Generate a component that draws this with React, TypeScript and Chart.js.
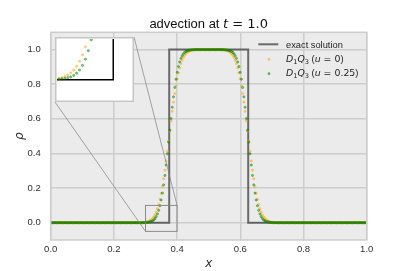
import React, { useEffect, useRef } from "react";
import { Chart, registerables } from "chart.js";

Chart.register(...registerables);

// ---- data ----
const GRID_N = 256; // cells on [0, 1], points at cell centres
const X_TICKS = [0, 0.2, 0.4, 0.6, 0.8, 1.0];
const Y_TICKS = [0, 0.2, 0.4, 0.6, 0.8, 1.0];
const X_RANGE = [0, 1];
const Y_RANGE = [-0.1, 1.1];
const INSET_X = [0.3, 0.4];
const INSET_Y = [-0.05, 0.1];

const EXACT_X = [0, 0.375, 0.375, 0.625, 0.625, 1];
const EXACT_Y = [0, 0, 1, 1, 0, 0];

// D1Q3, u = 0
const RHO_U0 = [
  0, 0, 0, 0, 0, 0, 0, 0, 0, 0,
  0, 0, 0, 0, 0, 0, 0, 0, 0, 0,
  0, 0, 0, 0, 0, 0, 0, 0, 0, 0,
  0, 0, 0, 0, 0, 0, 0, 0, 0, 0,
  0, 0, 0, 0, 0, 0, 0, 0, 0, 0,
  0, 0, 0, 0, 0, 0, 0, 0, 0, 0,
  0, 0, 0, 0, 0, 0, 0, 0, 0, 0,
  0,
  0.0001, 0.0002, 0.0004, 0.0007, 0.0012, 0.002, 0.0033, 0.0051, 0.0078, 0.0116,
  0.0168, 0.0236, 0.0331, 0.0453, 0.0611, 0.0808, 0.1052, 0.1346, 0.1691, 0.2089,
  0.2536, 0.3031, 0.3564, 0.4125, 0.4707, 0.5293, 0.5875, 0.6436, 0.6969, 0.7464,
  0.7911, 0.8309, 0.8654, 0.8948, 0.9192, 0.9389, 0.9549, 0.9672, 0.9767, 0.9837,
  0.9888, 0.9925, 0.9951, 0.9969, 0.9981, 0.9988, 0.9993, 0.9996, 0.9998, 0.9999,
  1, 1, 1, 1, 1, 1, 1, 1, 1, 1, 1, 1, 1, 1,
  0.9999, 0.9998, 0.9996, 0.9993, 0.9988, 0.9981, 0.9969, 0.9951, 0.9925, 0.9888,
  0.9837, 0.9767, 0.9672, 0.9549, 0.9389, 0.9192, 0.8948, 0.8654, 0.8309, 0.7911,
  0.7464, 0.6969, 0.6436, 0.5875, 0.5293, 0.4707, 0.4125, 0.3564, 0.3031, 0.2536,
  0.2089, 0.1691, 0.1346, 0.1052, 0.0808, 0.0611, 0.0453, 0.0331, 0.0236, 0.0168,
  0.0116, 0.0078, 0.0051, 0.0033, 0.002, 0.0012, 0.0007, 0.0004, 0.0002, 0.0001,
  0, 0, 0, 0, 0, 0, 0, 0, 0, 0,
  0, 0, 0, 0, 0, 0, 0, 0, 0, 0,
  0, 0, 0, 0, 0, 0, 0, 0, 0, 0,
  0, 0, 0, 0, 0, 0, 0, 0, 0, 0,
  0, 0, 0, 0, 0, 0, 0, 0, 0, 0,
  0, 0, 0, 0, 0, 0, 0, 0, 0, 0,
  0, 0, 0, 0, 0, 0, 0, 0, 0, 0,
  0,
];

// D1Q3, u = 0.25
const RHO_U025 = [
  0, 0, 0, 0, 0, 0, 0, 0, 0, 0,
  0, 0, 0, 0, 0, 0, 0, 0, 0, 0,
  0, 0, 0, 0, 0, 0, 0, 0, 0, 0,
  0, 0, 0, 0, 0, 0, 0, 0, 0, 0,
  0, 0, 0, 0, 0, 0, 0, 0, 0, 0,
  0, 0, 0, 0, 0, 0, 0, 0, 0, 0,
  0, 0, 0, 0, 0, 0, 0, 0, 0, 0,
  0, 0, 0, 0,
  0.0002, 0.0004, 0.0008, 0.0014, 0.0022, 0.0033, 0.0048, 0.0068, 0.0105, 0.016,
  0.0238, 0.0351, 0.0503, 0.0714, 0.0979, 0.1311, 0.1714, 0.2188, 0.273, 0.3331,
  0.398, 0.4656, 0.5344, 0.602, 0.6669, 0.727, 0.7812, 0.8286, 0.8689, 0.9021,
  0.9286, 0.9497, 0.9649, 0.9762, 0.984, 0.9895, 0.9932, 0.9952, 0.9967, 0.9978,
  0.9986, 0.9992, 0.9996, 0.9998, 0.9999,
  1, 1, 1, 1, 1, 1, 1, 1, 1, 1, 1, 1, 1, 1, 1, 1, 1, 1,
  0.9999, 0.9998, 0.9996, 0.9992, 0.9986,
  0.9978, 0.9967, 0.9952, 0.9932, 0.9895, 0.984, 0.9762, 0.9649, 0.9497, 0.9286,
  0.9021, 0.8689, 0.8286, 0.7812, 0.727, 0.6669, 0.602, 0.5344, 0.4656, 0.398,
  0.3331, 0.273, 0.2188, 0.1714, 0.1311, 0.0979, 0.0714, 0.0503, 0.0351, 0.0238,
  0.016, 0.0105, 0.0068, 0.0048, 0.0033, 0.0022, 0.0014, 0.0008, 0.0004, 0.0002,
  0, 0, 0, 0, 0, 0, 0, 0, 0, 0,
  0, 0, 0, 0, 0, 0, 0, 0, 0, 0,
  0, 0, 0, 0, 0, 0, 0, 0, 0, 0,
  0, 0, 0, 0, 0, 0, 0, 0, 0, 0,
  0, 0, 0, 0, 0, 0, 0, 0, 0, 0,
  0, 0, 0, 0, 0, 0, 0, 0, 0, 0,
  0, 0, 0, 0, 0, 0, 0, 0, 0, 0,
  0, 0, 0, 0,
];

type Seg = { t: string; it?: boolean; sub?: boolean; math?: boolean };
const TITLE_SEGS: Seg[] = [
  { t: "advection at " },
  { t: "t", it: true, math: true },
  { t: " = 1.0", math: true },
];
const LEGEND_EXACT: Seg[] = [{ t: "exact solution" }];
const LEGEND_U0: Seg[] = [
  { t: "D", it: true, math: true },
  { t: "1", sub: true, math: true },
  { t: "Q", it: true, math: true },
  { t: "3", sub: true, math: true },
  { t: " (" },
  { t: "u", it: true, math: true },
  { t: " = 0", math: true },
  { t: ")" },
];
const LEGEND_U025: Seg[] = [
  { t: "D", it: true, math: true },
  { t: "1", sub: true, math: true },
  { t: "Q", it: true, math: true },
  { t: "3", sub: true, math: true },
  { t: " (" },
  { t: "u", it: true, math: true },
  { t: " = 0.25", math: true },
  { t: ")" },
];
const X_LABEL = "x";
const Y_LABEL = "\u03C1";

// ---- styles ----
const W = 407;
const H = 271;
const AREA = { left: 50.7, right: 366.7, top: 32.3, bottom: 240 };
const INSET_BOX = { left: 55, top: 37, w: 79, h: 65 };
const BG = "#EBEBEB";
const GRID = "#cdcdcd";
const TEXT = "#2e2e2e";
const EXACT_COLOR = "rgba(55,55,55,0.72)";
const ORANGE = "rgba(255,165,0,0.45)";
const GREEN = "rgba(0,128,0,0.45)";
const POINT_R = 1.1;
const POINT_EDGE = 0.9;
const SANS = '"Liberation Sans", Arial, sans-serif';
const MATH = '"DejaVu Sans", sans-serif';

const X_GRID = Array.from({ length: GRID_N }, (_, i) => (i + 0.5) / GRID_N);

function pts(ys: number[]) {
  return ys.map((y, i) => ({ x: X_GRID[i], y }));
}
function exactPts() {
  return EXACT_X.map((x, i) => ({ x, y: EXACT_Y[i] }));
}

function segFont(s: Seg, size: number) {
  const sz = s.sub ? size * 0.7 : size;
  return `${s.it ? "italic " : ""}${sz}px ${s.math ? MATH : SANS}`;
}
function drawSegs(
  ctx: CanvasRenderingContext2D,
  segs: Seg[],
  x: number,
  y: number,
  size: number,
  align: "left" | "center"
) {
  ctx.textBaseline = "alphabetic";
  ctx.textAlign = "left";
  let total = 0;
  for (const s of segs) {
    ctx.font = segFont(s, size);
    total += ctx.measureText(s.t).width;
  }
  let cx = align === "center" ? x - total / 2 : x;
  for (const s of segs) {
    ctx.font = segFont(s, size);
    ctx.fillText(s.t, cx, s.sub ? y + size * 0.2 : y);
    cx += ctx.measureText(s.t).width;
  }
}

function drawMarker(ctx: CanvasRenderingContext2D, x: number, y: number, color: string) {
  ctx.fillStyle = color;
  ctx.strokeStyle = color;
  ctx.lineWidth = POINT_EDGE;
  ctx.beginPath();
  ctx.arc(x, y, POINT_R, 0, Math.PI * 2);
  ctx.fill();
  ctx.stroke();
}

const mainDecor = {
  id: "mainDecor",
  beforeDraw(chart: any) {
    const { ctx, chartArea: a } = chart;
    ctx.save();
    ctx.fillStyle = "#ffffff";
    ctx.fillRect(0, 0, chart.width, chart.height);
    ctx.fillStyle = BG;
    ctx.fillRect(a.left, a.top, a.right - a.left, a.bottom - a.top);
    ctx.restore();
  },
  afterDatasetsDraw(chart: any) {
    const { ctx, chartArea: a } = chart;
    const xs = chart.scales.x;
    const ys = chart.scales.y;
    const x0 = xs.getPixelForValue(INSET_X[0]);
    const x1 = xs.getPixelForValue(INSET_X[1]);
    const y0 = ys.getPixelForValue(INSET_Y[0]);
    const y1 = ys.getPixelForValue(INSET_Y[1]);
    ctx.save();
    ctx.strokeStyle = "#808080";
    ctx.lineWidth = 0.9;
    ctx.strokeRect(x0, y1, x1 - x0, y0 - y1);
    ctx.beginPath();
    ctx.moveTo(INSET_BOX.left, INSET_BOX.top + INSET_BOX.h);
    ctx.lineTo(x0, y0);
    ctx.moveTo(INSET_BOX.left + INSET_BOX.w, INSET_BOX.top);
    ctx.lineTo(x1, y1);
    ctx.lineWidth = 0.7;
    ctx.stroke();
    // axes frame
    ctx.strokeStyle = GRID;
    ctx.lineWidth = 1.5;
    ctx.strokeRect(a.left, a.top, a.right - a.left, a.bottom - a.top);
    ctx.restore();
  },
  afterDraw(chart: any) {
    const { ctx, chartArea: a } = chart;
    ctx.save();
    ctx.fillStyle = "#111111";
    drawSegs(ctx, TITLE_SEGS, (a.left + a.right) / 2, 27.5, 13, "center");

    // axis labels
    ctx.fillStyle = TEXT;
    ctx.font = `italic 12px ${MATH}`;
    ctx.textAlign = "center";
    ctx.textBaseline = "alphabetic";
    ctx.fillText(X_LABEL, (a.left + a.right) / 2, 266.5);
    ctx.save();
    ctx.translate(23, (a.top + a.bottom) / 2);
    ctx.rotate(-Math.PI / 2);
    ctx.fillText(Y_LABEL, 0, 0);
    ctx.restore();

    // legend
    ctx.strokeStyle = EXACT_COLOR;
    ctx.lineWidth = 2;
    ctx.beginPath();
    ctx.moveTo(258.3, 44.3);
    ctx.lineTo(278.3, 44.3);
    ctx.stroke();
    drawMarker(ctx, 269, 59.3, ORANGE);
    drawMarker(ctx, 269, 73.7, GREEN);
    ctx.fillStyle = "#1e1e1e";
    drawSegs(ctx, LEGEND_EXACT, 286, 47.5, 9.3, "left");
    drawSegs(ctx, LEGEND_U0, 286, 62, 9.4, "left");
    drawSegs(ctx, LEGEND_U025, 286, 76.4, 9.4, "left");
    ctx.restore();
  },
};

const insetDecor = {
  id: "insetDecor",
  beforeDraw(chart: any) {
    const { ctx } = chart;
    ctx.save();
    ctx.fillStyle = "#ffffff";
    ctx.fillRect(0, 0, chart.width, chart.height);
    ctx.restore();
  },
  afterDraw(chart: any) {
    const { ctx } = chart;
    ctx.save();
    ctx.strokeStyle = "#c6c6c6";
    ctx.lineWidth = 1.5;
    ctx.strokeRect(0.75, 0.75, chart.width - 1.5, chart.height - 1.5);
    ctx.restore();
  },
};

function pointSet(label: string, ys: number[], color: string, order: number) {
  return {
    label,
    data: pts(ys),
    backgroundColor: color,
    borderColor: color,
    borderWidth: POINT_EDGE,
    pointRadius: POINT_R,
    pointHoverRadius: 0,
    pointBorderWidth: POINT_EDGE,
    order,
  };
}

export default function App() {
  const mainRef = useRef<HTMLCanvasElement>(null);
  const insetRef = useRef<HTMLCanvasElement>(null);

  useEffect(() => {
    if (!mainRef.current || !insetRef.current) return;
    const tickFont = { family: SANS, size: 9.5 };
    const main = new Chart(mainRef.current, {
      type: "scatter",
      data: {
        datasets: [
          {
            label: "exact solution",
            data: exactPts(),
            showLine: true,
            borderColor: EXACT_COLOR,
            borderWidth: 2,
            pointRadius: 0,
            pointHoverRadius: 0,
            tension: 0,
            order: 3,
          } as any,
          pointSet("D1Q3 (u = 0)", RHO_U0, ORANGE, 2),
          pointSet("D1Q3 (u = 0.25)", RHO_U025, GREEN, 1),
        ],
      },
      options: {
        responsive: false,
        animation: false,
        events: [],
        layout: {
          padding: { left: 0, top: AREA.top, right: W - AREA.right, bottom: 0 },
        },
        plugins: {
          legend: { display: false },
          tooltip: { enabled: false },
          title: { display: false },
        },
        scales: {
          x: {
            type: "linear",
            min: X_RANGE[0],
            max: X_RANGE[1],
            afterBuildTicks: (s: any) => {
              s.ticks = X_TICKS.map((v) => ({ value: v }));
            },
            afterFit: (s: any) => {
              s.height = H - AREA.bottom;
            },
            ticks: {
              autoSkip: false,
              maxRotation: 0,
              padding: 4,
              color: TEXT,
              font: tickFont,
              callback: (v: any) => Number(v).toFixed(1),
            },
            grid: { color: GRID, lineWidth: 1.5, drawTicks: false },
            border: { display: false },
          },
          y: {
            type: "linear",
            min: Y_RANGE[0],
            max: Y_RANGE[1],
            afterBuildTicks: (s: any) => {
              s.ticks = Y_TICKS.map((v) => ({ value: v }));
            },
            afterFit: (s: any) => {
              s.width = AREA.left;
            },
            ticks: {
              autoSkip: false,
              padding: 10,
              color: TEXT,
              font: tickFont,
              callback: (v: any) => Number(v).toFixed(1),
            },
            grid: { color: GRID, lineWidth: 1.5, drawTicks: false },
            border: { display: false },
          },
        },
      } as any,
      plugins: [mainDecor],
    });

    const inset = new Chart(insetRef.current, {
      type: "scatter",
      data: {
        datasets: [
          {
            label: "exact solution",
            data: exactPts(),
            showLine: true,
            borderColor: "#000000",
            borderWidth: 1.5,
            pointRadius: 0,
            pointHoverRadius: 0,
            tension: 0,
            order: 3,
          } as any,
          pointSet("D1Q3 (u = 0)", RHO_U0, ORANGE, 2),
          pointSet("D1Q3 (u = 0.25)", RHO_U025, GREEN, 1),
        ],
      },
      options: {
        responsive: false,
        animation: false,
        events: [],
        layout: { padding: 0 },
        plugins: { legend: { display: false }, tooltip: { enabled: false } },
        scales: {
          x: { type: "linear", min: INSET_X[0], max: INSET_X[1], display: false },
          y: { type: "linear", min: INSET_Y[0], max: INSET_Y[1], display: false },
        },
      } as any,
      plugins: [insetDecor],
    });

    return () => {
      main.destroy();
      inset.destroy();
    };
  }, []);

  return (
    <div
      style={{
        position: "absolute",
        left: 0,
        top: 0,
        width: W,
        height: H,
        background: "#ffffff",
      }}
    >
      <canvas
        ref={mainRef}
        width={W}
        height={H}
        style={{ position: "absolute", left: 0, top: 0, width: W, height: H }}
      />
      <canvas
        ref={insetRef}
        width={INSET_BOX.w}
        height={INSET_BOX.h}
        style={{
          position: "absolute",
          left: INSET_BOX.left,
          top: INSET_BOX.top,
          width: INSET_BOX.w,
          height: INSET_BOX.h,
        }}
      />
    </div>
  );
}
